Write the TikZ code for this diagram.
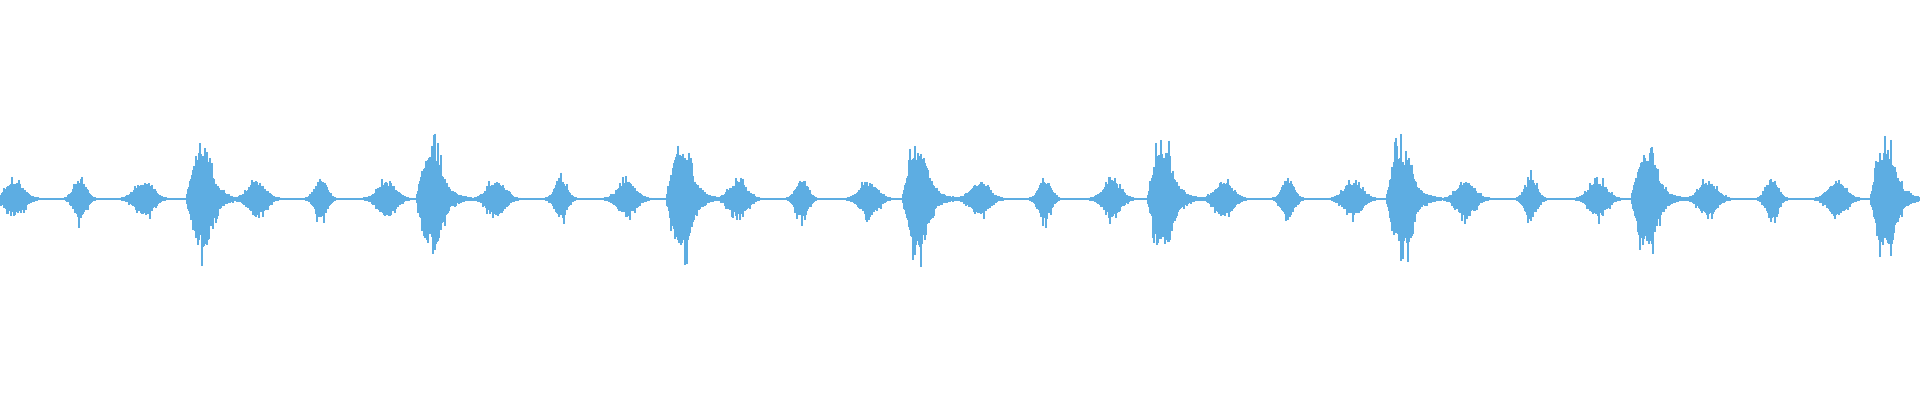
\documentclass[tikz,border=0pt]{standalone}
\definecolor{wave}{HTML}{5DADE2}
\begin{document}
\begin{tikzpicture}[x=1pt,y=1pt,bar/.style={wave,line width=1.1pt}]
\useasboundingbox (0,0) rectangle (1920,400);
\pgfmathsetseed{7}
\draw[wave,line width=2pt] (0,201) -- (1920,201);
\foreach \b/\t in {15/0,80/1,144/0,196/2,257/0,321/1,387/0,426/2,496/0,561/1,627/0,676/2,738/0,802/1,869/0,912/2,980/0,1045/1,1112/0,1157/2,1224/0,1288/1,1353/0,1396/2,1466/0,1531/1,1598/0,1641/2,1708/0,1772/1,1837/0,1880/2}{
 \ifnum\t=2 \def\lo{-9}\def\hi{45}\else\ifnum\t=1 \def\lo{-15}\def\hi{15}\else\def\lo{-24}\def\hi{24}\fi\fi
 \foreach \d in {\lo,...,\hi}{
  \pgfmathsetmacro\env{\t==2 ? (\d<0 ? 46*(1+\d/10) : (\d<12 ? 46 : 46*exp(-(\d-12)/8))) : (\t==1 ? 20*exp(-(\d/8)^2) : 17*exp(-(\d/12)^2))}
  \pgfmathsetmacro\u{\env*(0.7+0.3*rnd)*(rnd>0.85 ? 1.4 : 1)+1}
  \pgfmathsetmacro\v{\env*(0.7+0.3*rnd)*(rnd>0.85 ? 1.45 : 1)+1}
  \draw[bar] (\b+\d,201+\u) -- (\b+\d,201-\v);
 }}
\end{tikzpicture}
\end{document}
